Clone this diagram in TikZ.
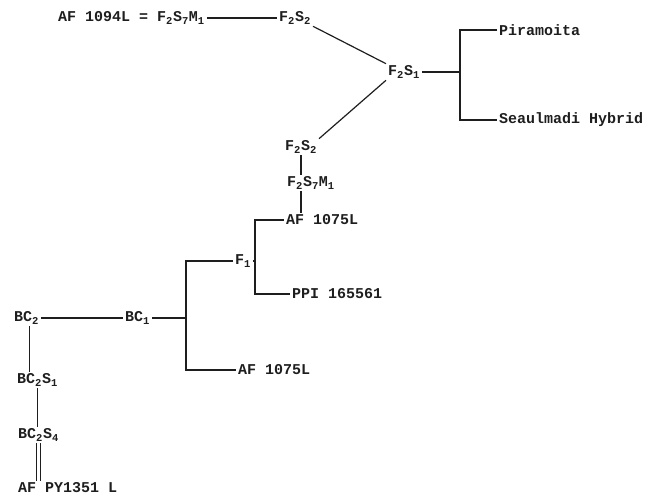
\documentclass[tikz,border=0pt]{standalone}
\usepackage{fontspec}
\setmonofont{Liberation Mono}
\usetikzlibrary{positioning}
\definecolor{Ink}{HTML}{1E1E1E}
\newcommand{\sbs}[1]{\textsubscript{#1}}
\tikzset{
  lbl/.style={font=\ttfamily\bfseries\fontsize{15}{17}\selectfont,inner sep=2pt,anchor=west,text=Ink},
  link/.style={draw=Ink,line width=1.2pt},
  twin/.style={draw=Ink,double=white,line width=1.1pt,double distance=2.6pt}
}
\begin{document}
\begin{tikzpicture}[x=1pt,y=-1pt]
\useasboundingbox (0,0) rectangle (656,497);
\node[lbl] (root) at (56,18) {AF 1094L = F\sbs{2}S\sbs{7}M\sbs{1}};
\node[lbl] (fa) at (277,18) {F\sbs{2}S\sbs{2}};
\node[lbl] (fb) at (386,72) {F\sbs{2}S\sbs{1}};
\node[lbl] (pir) at (497,30) {Piramoita};
\node[lbl] (sea) at (497,120) {Seaulmadi Hybrid};
\node[lbl] (fc) at (283,147) {F\sbs{2}S\sbs{2}};
\node[lbl] (fd) at (285,183) {F\sbs{2}S\sbs{7}M\sbs{1}};
\node[lbl] (afa) at (284,220) {AF 1075L};
\node[lbl] (fe) at (233,261) {F\sbs{1}};
\node[lbl] (ppi) at (290,294) {PPI 165561};
\node[lbl] (bca) at (123,318) {BC\sbs{1}};
\node[lbl] (afb) at (236,370) {AF 1075L};
\node[lbl] (bcb) at (12,318) {BC\sbs{2}};
\node[lbl] (bcc) at (15,380) {BC\sbs{2}S\sbs{1}};
\node[lbl] (bcd) at (16,435) {BC\sbs{2}S\sbs{4}};
\node[lbl] (py) at (16,488) {AF PY1351 L};
\coordinate (ja) at (460,72);
\coordinate (jb) at (255,261);
\coordinate (jc) at (186,318);
% top part
\draw[link] (root) -- (fa);
\draw[link] (fa.south east) -- (fb.north west);
\draw[link] (fb) -- (ja);
\draw[link] (pir.west) -| (ja) |- (sea.west);
\draw[link] (fb.south west) -- (fc.north east);
\draw[link] (fc.south) -- (fc.south |- fd.north);
\draw[link] (fc.south |- fd.south) -- (fc.south |- afa.north);
% middle brackets
\draw[link] (afa.west) -| (jb) |- (ppi.west);
\draw[link] (fe) -- (jb);
\draw[link] (fe.west) -| (jc) |- (afb.west);
\draw[link] (bca) -- (jc);
% left column
\draw[link] (bcb) -- (bca);
\draw[link] (bcb.290) -- (bcb.290 |- bcc.north);
\draw[link] (bcc.south) -- (bcc.south |- bcd.north);
\draw[twin] (bcd.south) -- (bcd.south |- py.north);
\end{tikzpicture}
\end{document}
